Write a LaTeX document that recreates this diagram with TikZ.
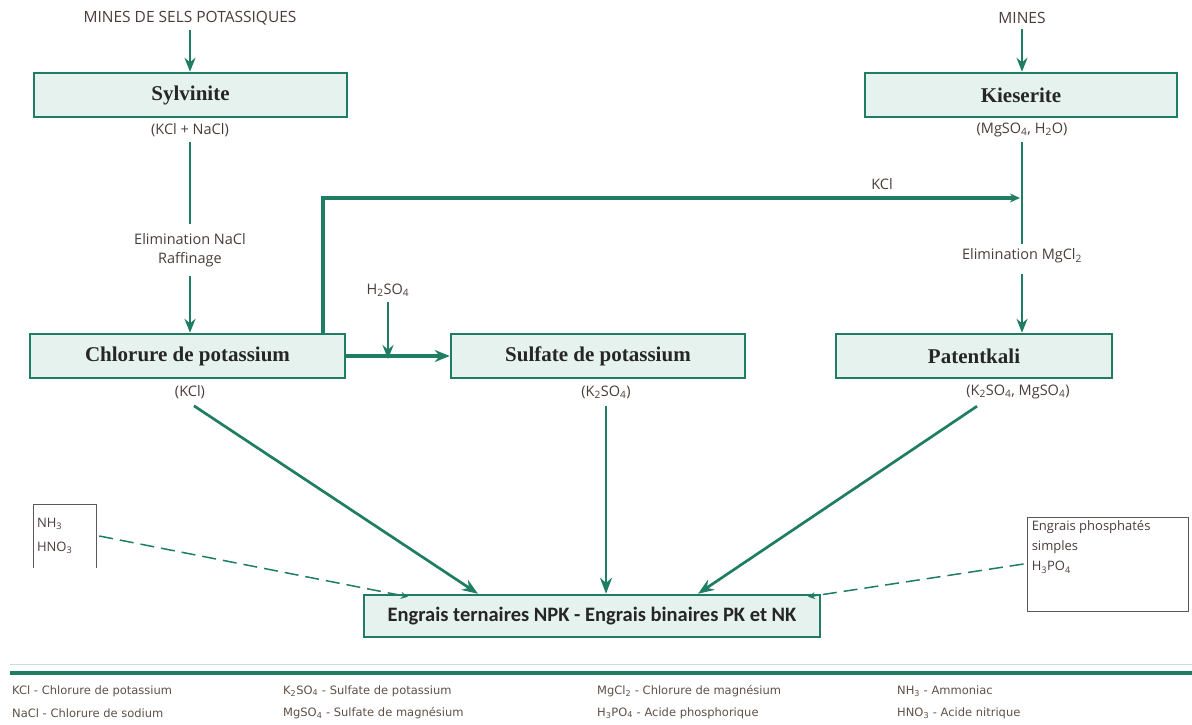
\documentclass[tikz,border=0pt]{standalone}
\usepackage{fontspec}
\setmainfont{Liberation Serif}
\newfontfamily\labfont{Open Sans}
\newfontfamily\boldsans{Carlito}
\newfontfamily\legfont{DejaVu Sans}
\usetikzlibrary{arrows.meta}
\definecolor{tealc}{HTML}{1E7D63}
\definecolor{boxfill}{HTML}{E6F2EE}
\definecolor{labc}{HTML}{4A3C3A}
\definecolor{legc}{HTML}{5E5048}
\begin{document}
\begin{tikzpicture}[x=1pt,y=-1pt,
  mainbox/.style={draw=tealc, line width=2.5pt, fill=boxfill, inner sep=0pt, minimum height=44pt, font=\bfseries\fontsize{21}{24}\selectfont, text=black!85},
  lab/.style={font=\labfont\fontsize{14.5}{19}\selectfont, text=labc, inner sep=1pt, align=center},
  arr/.style={draw=tealc, line width=2pt, -{Stealth[length=14pt,width=11pt]}},
  ln/.style={draw=tealc, line width=2pt},
  fat/.style={draw=tealc, line width=3.5pt, -{Stealth[length=15pt,width=12pt]}},
  loopln/.style={draw=tealc, line width=3.5pt, -{Stealth[length=10pt,width=9pt]}},
  diag/.style={draw=tealc, line width=2.7pt, -{Stealth[length=16pt,width=12pt]}},
  dasharr/.style={draw=tealc, line width=1.5pt, dash pattern=on 14pt off 7pt, -{Stealth[length=7pt,width=7pt]}},
  sidebox/.style={draw=black!65, line width=0.9pt, inner sep=0pt},
  leg/.style={font=\legfont\fontsize{11.5}{13}\selectfont, text=legc, anchor=west, inner sep=0pt}
]
\useasboundingbox (0,0) rectangle (1192,724);

% main boxes
\node[mainbox, minimum width=313pt] (sylv) at (190.5,95) {Sylvinite};
\node[mainbox, minimum width=312pt] (kies) at (1021,95) {Kieserite};
\node[mainbox, minimum width=315pt] (chl) at (187.5,356) {Chlorure de potassium};
\node[mainbox, minimum width=294pt] (sulf) at (598,356) {Sulfate de potassium};
\node[mainbox, minimum width=276pt] (pat) at (974,356) {Patentkali};
\node[mainbox, minimum width=456pt, minimum height=42pt, font=\boldsans\bfseries\fontsize{20.5}{24}\selectfont] (npk) at (592,616) {Engrais ternaires NPK - Engrais binaires PK et NK};

% labels
\node[lab, font=\labfont\fontsize{15.5}{19}\selectfont] (m1) at (190,18) {MINES DE SELS POTASSIQUES};
\node[lab, font=\labfont\fontsize{15.5}{19}\selectfont] (m2) at (1022,18) {MINES};
\node[lab] (f1) at (190,130) {(KCl + NaCl)};
\node[lab] (f2) at (1022,130) {(MgSO\textsubscript{4}, H\textsubscript{2}O)};
\node[lab] (e1) at (190,250) {Elimination NaCl\\Raffinage};
\node[lab] (e2) at (1022,256) {Elimination MgCl\textsubscript{2}};
\node[lab] (f3) at (190,392) {(KCl)};
\node[lab] (f4) at (606,392) {(K\textsubscript{2}SO\textsubscript{4})};
\node[lab] (f5) at (1018,392) {(K\textsubscript{2}SO\textsubscript{4}, MgSO\textsubscript{4})};
\node[lab] (kcl) at (882,184) {KCl};
\node[lab] (h2) at (388,290) {H\textsubscript{2}SO\textsubscript{4}};

% side boxes
\node[lab, align=left, text width=56pt, minimum height=63pt, inner sep=3pt, font=\labfont\fontsize{13}{24}\selectfont] (nh) at (65,536) {NH\textsubscript{3}\\HNO\textsubscript{3}};
\draw[draw=black!65, line width=0.9pt] (nh.south west) -- (nh.north west) -- (nh.north east) -- (nh.south east);
\node[sidebox, minimum width=161pt, minimum height=94pt] (phb) at (1107.5,564) {};
\node[lab, align=left, anchor=north west, font=\labfont\fontsize{13}{20}\selectfont] (pht) at ([xshift=4pt,yshift=-3pt]phb.north west) {Engrais phosphatés\\simples\\H\textsubscript{3}PO\textsubscript{4}};

% connectors
\draw[arr] ([yshift=-4pt]m1.south) -- (m1 |- sylv.north);
\draw[arr] ([yshift=-4pt]m2.south) -- (m2 |- kies.north);
\draw[ln] ([yshift=-4pt]f1.south) -- ([yshift=8pt]e1.north);
\draw[arr] ([yshift=-8pt]e1.south) -- (e1 |- chl.north);
\draw[ln] ([yshift=-4pt]f2.south) -- ([yshift=4pt]e2.north);
\draw[arr] ([yshift=-10pt]e2.south) -- (e2 |- pat.north);

\coordinate (kup) at (323,198);
\draw[loopln] (kup |- chl.north) -- (kup) -- ([xshift=-2pt]f2 |- kup);

\draw[fat] (chl.east) -- (sulf.west);
\draw[arr] ([yshift=-4pt]h2.south) -- ([yshift=-3pt]h2 |- chl.east);

\draw[diag] ([xshift=4pt,yshift=-6pt]f3.south) -- ([xshift=-114pt]npk.north);
\draw[diag] ([yshift=-6pt]f4.south) -- (f4 |- npk.north);
\draw[diag] ([xshift=-41pt,yshift=-6pt]f5.south) -- ([xshift=106pt]npk.north);

\draw[dasharr] ([xshift=3pt]nh.east) -- ([xshift=-184pt,yshift=-3pt]npk.north);
\draw[dasharr] ([xshift=-3pt]phb.west) -- ([xshift=216pt,yshift=-3pt]npk.north);

% legend
\draw[draw=tealc!25, line width=1pt] (10,664) -- (1192,664);
\draw[draw=tealc, line width=4pt] (10,673) -- (1192,673);
\node[leg] (l1) at (12,691) {KCl - Chlorure de potassium};
\node[leg] (l2) at (12,713) {NaCl - Chlorure de sodium};
\node[leg] (l3) at (283,691) {K\textsubscript{2}SO\textsubscript{4} - Sulfate de potassium};
\node[leg] (l4) at (283,713) {MgSO\textsubscript{4} - Sulfate de magnésium};
\node[leg] (l5) at (597,691) {MgCl\textsubscript{2} - Chlorure de magnésium};
\node[leg] (l6) at (597,713) {H\textsubscript{3}PO\textsubscript{4} - Acide phosphorique};
\node[leg] (l7) at (897,691) {NH\textsubscript{3} - Ammoniac};
\node[leg] (l8) at (897,713) {HNO\textsubscript{3} - Acide nitrique};
\end{tikzpicture}
\end{document}
